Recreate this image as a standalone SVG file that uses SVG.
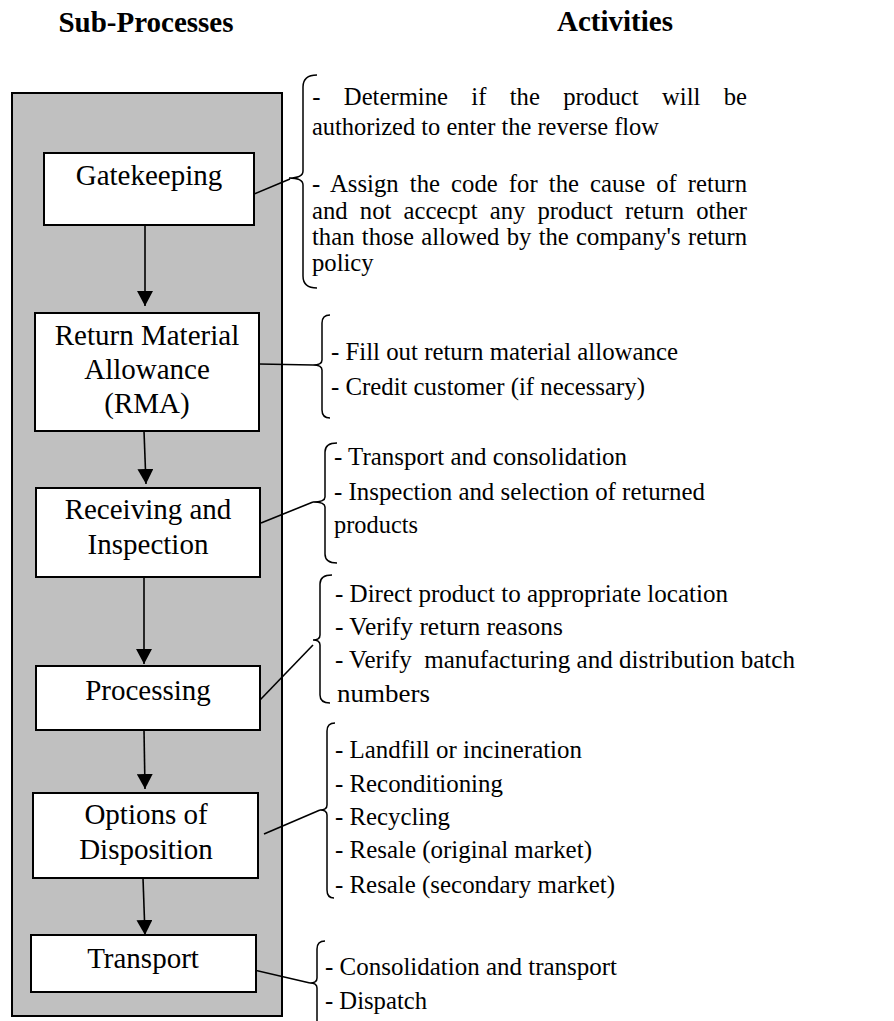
<svg xmlns="http://www.w3.org/2000/svg" width="894" height="1021" viewBox="0 0 894 1021">
<style>
text{font-family:"Liberation Serif","Times New Roman",serif;fill:#000}
.hdr{font-size:29px;font-weight:bold;text-anchor:middle}
.lbl{font-size:29px;text-anchor:middle}
.act{font-size:26px}
.box{fill:#fff;stroke:#000;stroke-width:2}
.ln{fill:none;stroke:#000;stroke-width:1.6}
.br{fill:none;stroke:#000;stroke-width:1.5}
</style>
<defs>
<marker id="ah" markerUnits="userSpaceOnUse" markerWidth="16" markerHeight="16" viewBox="0 0 16 16" refX="15" refY="8" orient="auto">
<path d="M0,0 L15,8 L0,16 Z" fill="#000"/>
</marker>
</defs>
<rect width="894" height="1021" fill="#fff"/>
<text class="hdr" x="146" y="32">Sub-Processes</text>
<text class="hdr" x="615" y="31">Activities</text>
<rect id="panel" x="12" y="93" width="270" height="923" fill="#c0c0c0" stroke="#000" stroke-width="2"/>

<g id="connectors">
<line class="ln" x1="145" y1="225" x2="145" y2="306" marker-end="url(#ah)"/>
<line class="ln" x1="144" y1="431" x2="146" y2="484" marker-end="url(#ah)"/>
<line class="ln" x1="144" y1="577" x2="144" y2="664" marker-end="url(#ah)"/>
<line class="ln" x1="144" y1="730" x2="145" y2="789" marker-end="url(#ah)"/>
<line class="ln" x1="143" y1="878" x2="145" y2="935" marker-end="url(#ah)"/>
<line class="ln" x1="254" y1="194" x2="290" y2="179"/>
<line class="ln" x1="259" y1="364" x2="313" y2="365"/>
<line class="ln" x1="261" y1="523" x2="313" y2="502"/>
<line class="ln" x1="260" y1="700" x2="313" y2="645"/>
<line class="ln" x1="264" y1="834" x2="320" y2="810"/>
<line class="ln" x1="254" y1="970" x2="310" y2="983"/>
</g>

<g id="gatekeeping">
<rect class="box" x="44" y="153" width="210" height="72"/>
<text class="lbl" x="149" y="185">Gatekeeping</text>
</g>
<g id="rma">
<rect class="box" x="35" y="313" width="224" height="118"/>
<text class="lbl" x="147" y="345">Return Material</text>
<text class="lbl" x="147" y="379">Allowance</text>
<text class="lbl" x="147" y="413">(RMA)</text>
</g>
<g id="receiving">
<rect class="box" x="36" y="488" width="224" height="89"/>
<text class="lbl" x="148" y="519">Receiving and</text>
<text class="lbl" x="148" y="554">Inspection</text>
</g>
<g id="processing">
<rect class="box" x="36" y="666" width="224" height="64"/>
<text class="lbl" x="148" y="700">Processing</text>
</g>
<g id="options">
<rect class="box" x="33" y="793" width="225" height="85"/>
<text class="lbl" x="146" y="824">Options of</text>
<text class="lbl" x="146" y="859">Disposition</text>
</g>
<g id="transport">
<rect class="box" x="31" y="935" width="225" height="57"/>
<text class="lbl" x="143" y="968">Transport</text>
</g>

<g id="act-gatekeeping">
<path class="br" d="M317,75 Q303,75 303,87 L303,171 Q303,178 289,178 Q303,178 303,185 L303,276 Q303,288 317,288"/>
<g transform="scale(0.95,1)">
<text class="act" x="328.7" y="105" style="word-spacing:18px" textLength="457.6" lengthAdjust="spacing">- Determine if the product will be</text>
<text class="act" x="328.4" y="135" textLength="365.3" lengthAdjust="spacingAndGlyphs">authorized to enter the reverse flow</text>
<text class="act" x="328.4" y="192" style="word-spacing:5.07px" textLength="457.9" lengthAdjust="spacing">- Assign the code for the cause of return</text>
<text class="act" x="328.4" y="219" style="word-spacing:6.28px" textLength="457.9" lengthAdjust="spacing">and not accecpt any product return other</text>
<text class="act" x="328.4" y="245" style="word-spacing:1.16px" textLength="457.9" lengthAdjust="spacing">than those allowed by the company's return</text>
<text class="act" x="328.4" y="271">policy</text>
</g>
</g>

<g id="act-rma">
<path class="br" d="M330,315 Q322,315 322,323 L322,360 Q322,365 313,365 Q322,365 322,370 L322,410 Q322,418 330,418"/>
<g transform="scale(0.95,1)">
<text class="act" x="348.4" y="360" textLength="365.3" lengthAdjust="spacingAndGlyphs">- Fill out return material allowance</text>
<text class="act" x="348.4" y="395" textLength="330.5" lengthAdjust="spacingAndGlyphs">- Credit customer (if necessary)</text>
</g>
</g>

<g id="act-receiving">
<path class="br" d="M337,443 Q325,443 325,452 L325,497 Q325,502 313,502 Q325,502 325,507 L325,554 Q325,563 337,563"/>
<g transform="scale(0.95,1)">
<text class="act" x="351.6" y="465" textLength="308.4" lengthAdjust="spacingAndGlyphs">- Transport and consolidation</text>
<text class="act" x="351.6" y="500" textLength="390.5" lengthAdjust="spacingAndGlyphs">- Inspection and selection of returned</text>
<text class="act" x="351.6" y="533" textLength="88.4" lengthAdjust="spacingAndGlyphs">products</text>
</g>
</g>

<g id="act-processing">
<path class="br" d="M332,575 Q320,575 320,584 L320,635 Q320,640 313,640 Q320,640 320,645 L320,695 Q320,703 330,703"/>
<g transform="scale(0.95,1)">
<text class="act" x="352.6" y="602" textLength="413.7" lengthAdjust="spacingAndGlyphs">- Direct product to appropriate location</text>
<text class="act" x="352.6" y="635" textLength="240" lengthAdjust="spacingAndGlyphs">- Verify return reasons</text>
<text class="act" x="352.6" y="668" textLength="484.2" lengthAdjust="spacingAndGlyphs" style="white-space:pre">- Verify  manufacturing and distribution batch</text>
<text class="act" x="354.7" y="702" textLength="97.9" lengthAdjust="spacingAndGlyphs">numbers</text>
</g>
</g>

<g id="act-options">
<path class="br" d="M335,723 Q327,723 327,731 L327,805 Q327,810 320,810 Q327,810 327,815 L327,890 Q327,898 334,898"/>
<g transform="scale(0.95,1)">
<text class="act" x="352.6" y="758" textLength="260" lengthAdjust="spacingAndGlyphs">- Landfill or incineration</text>
<text class="act" x="352.6" y="792" textLength="176.8" lengthAdjust="spacingAndGlyphs">- Reconditioning</text>
<text class="act" x="352.6" y="825" textLength="121.1" lengthAdjust="spacingAndGlyphs">- Recycling</text>
<text class="act" x="352.6" y="858" textLength="270.5" lengthAdjust="spacingAndGlyphs">- Resale (original market)</text>
<text class="act" x="352.6" y="893" textLength="294.7" lengthAdjust="spacingAndGlyphs">- Resale (secondary market)</text>
</g>
</g>

<g id="act-transport">
<path class="br" d="M325,941 Q317,941 317,949 L317,978 Q317,983 310,983 Q317,983 317,988 L317,1025"/>
<g transform="scale(0.95,1)">
<text class="act" x="342.1" y="975" textLength="307.4" lengthAdjust="spacingAndGlyphs">- Consolidation and transport</text>
<text class="act" x="342.1" y="1009" textLength="107.4" lengthAdjust="spacingAndGlyphs">- Dispatch</text>
</g>
</g>
</svg>
